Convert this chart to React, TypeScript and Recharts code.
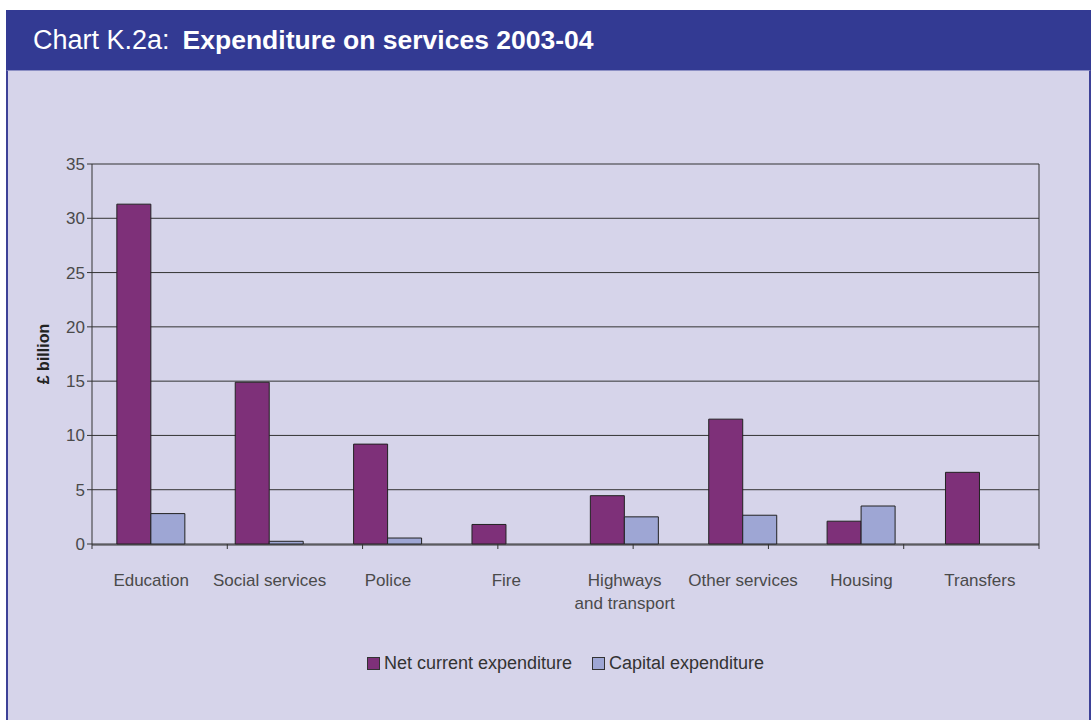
import { Bar, BarChart, CartesianGrid, Legend, XAxis, YAxis } from "recharts";

const categories = [
  "Education",
  "Social services",
  "Police",
  "Fire",
  "Highways\nand transport",
  "Other services",
  "Housing",
  "Transfers"
];
const netCurrent = [31.3, 14.9, 9.2, 1.8, 4.45, 11.5, 2.1, 6.6];
const capital = [2.8, 0.25, 0.55, 0, 2.5, 2.65, 3.5, 0];
const seriesNames = ["Net current expenditure", "Capital expenditure"];
const yTicks = [0, 5, 10, 15, 20, 25, 30, 35];
const edgeTicks = categories.map((_, i) => i).concat(categories.length);

const data = categories.map((name, i) => ({
  name,
  net: netCurrent[i],
  capital: capital[i]
}));

const FONT = '"Liberation Sans", Arial, Helvetica, sans-serif';
const COLORS = {
  header: "#333a93",
  panel: "#d6d4ea",
  border: "#3d4197",
  net: "#7e3079",
  capital: "#9ea6d4",
  axis: "#333333",
  text: "#4a4a4a"
};

function CategoryTick({ x, y, payload }: any) {
  const lines = String(payload.value).split("\n");
  return (
    <text x={x} y={y} textAnchor="middle" fill={COLORS.text} fontSize={17} fontFamily={FONT}>
      {lines.map((line, i) => (
        <tspan key={line} x={x} dy={i === 0 ? 33 : 23}>
          {line}
        </tspan>
      ))}
    </text>
  );
}

function LegendContent({ payload }: any) {
  const items = [...(payload || [])].sort(
    (a: any, b: any) => seriesNames.indexOf(a.value) - seriesNames.indexOf(b.value)
  );
  return (
    <div style={{ display: "flex", justifyContent: "center", alignItems: "center", gap: 20 }}>
      {items.map((item: any) => (
        <div key={item.value} style={{ display: "flex", alignItems: "center", gap: 4 }}>
          <span
            style={{
              width: 11,
              height: 11,
              background: item.color,
              border: "1px solid #333",
              display: "inline-block"
            }}
          />
          <span style={{ fontSize: 18, color: "#333", fontFamily: FONT }}>{item.value}</span>
        </div>
      ))}
    </div>
  );
}

export default function App() {
  return (
    <div
      style={{
        position: "absolute",
        left: 0,
        top: 0,
        width: 1092,
        height: 720,
        background: "#fff",
        fontFamily: FONT,
        overflow: "hidden"
      }}
    >
      <div
        style={{
          position: "absolute",
          left: 6,
          top: 10,
          width: 1085,
          height: 60,
          background: COLORS.header,
          color: "#fff",
          display: "flex",
          alignItems: "center",
          paddingLeft: 27,
          boxSizing: "border-box"
        }}
      >
        <span style={{ fontSize: 27 }}>Chart K.2a:</span>
        <span style={{ fontSize: 26.5, fontWeight: "bold", marginLeft: 13 }}>
          Expenditure on services 2003-04
        </span>
      </div>
      <div
        style={{
          position: "absolute",
          left: 6,
          top: 70,
          width: 1085,
          height: 650,
          background: COLORS.panel,
          borderLeft: `2px solid ${COLORS.border}`,
          borderRight: `2px solid ${COLORS.border}`,
          borderTop: "1px solid #8c8fc4",
          boxSizing: "border-box"
        }}
      />
      <div style={{ position: "absolute", left: 0, top: 70 }}>
        <BarChart
          width={1092}
          height={650}
          data={data}
          margin={{ top: 94, right: 52, bottom: 43, left: 22 }}
          barCategoryGap="21%"
          barGap={0}
        >
          <CartesianGrid vertical={false} xAxisId={1} stroke={COLORS.axis} strokeWidth={1} />
          <XAxis
            xAxisId={0}
            type="number"
            domain={[0, categories.length]}
            allowDataOverflow
            ticks={edgeTicks}
            interval={0}
            height={1}
            axisLine={false}
            tick={{ fontSize: 0 }}
            tickFormatter={() => ""}
            tickSize={5}
            tickLine={{ stroke: COLORS.axis }}
          />
          <XAxis
            xAxisId={1}
            dataKey="name"
            height={108}
            interval={0}
            tickLine={false}
            axisLine={{ stroke: COLORS.axis }}
            tick={<CategoryTick />}
          />
          <YAxis
            width={70}
            domain={[0, 35]}
            ticks={yTicks}
            interval={0}
            tickSize={5}
            tickLine={{ stroke: COLORS.axis }}
            axisLine={{ stroke: COLORS.axis }}
            tick={{ fill: COLORS.text, fontSize: 17, fontFamily: FONT }}
            label={{
              content: ({ viewBox }: any) => {
                const cx = viewBox.x + 23;
                const cy = viewBox.y + viewBox.height / 2;
                return (
                  <text
                    x={cx}
                    y={cy}
                    transform={`rotate(-90 ${cx} ${cy})`}
                    textAnchor="middle"
                    dominantBaseline="middle"
                    fontSize={16}
                    fontWeight="bold"
                    fill="#222"
                    fontFamily={FONT}
                  >
                    £ billion
                  </text>
                );
              }
            }}
          />
          <YAxis
            yAxisId={1}
            orientation="right"
            width={1}
            domain={[0, 35]}
            allowDataOverflow
            ticks={yTicks}
            tick={false}
            tickLine={false}
            axisLine={{ stroke: COLORS.axis }}
          />
          <Legend
            verticalAlign="bottom"
            height={24}
            content={<LegendContent />}
            wrapperStyle={{ left: 92, width: 947 }}
          />
          <Bar
            xAxisId={1}
            dataKey="net"
            name={seriesNames[0]}
            fill={COLORS.net}
            stroke="#222"
            strokeWidth={1}
            isAnimationActive={false}
          />
          <Bar
            xAxisId={1}
            dataKey="capital"
            name={seriesNames[1]}
            fill={COLORS.capital}
            stroke="#222"
            strokeWidth={1}
            isAnimationActive={false}
          />
        </BarChart>
      </div>
    </div>
  );
}
